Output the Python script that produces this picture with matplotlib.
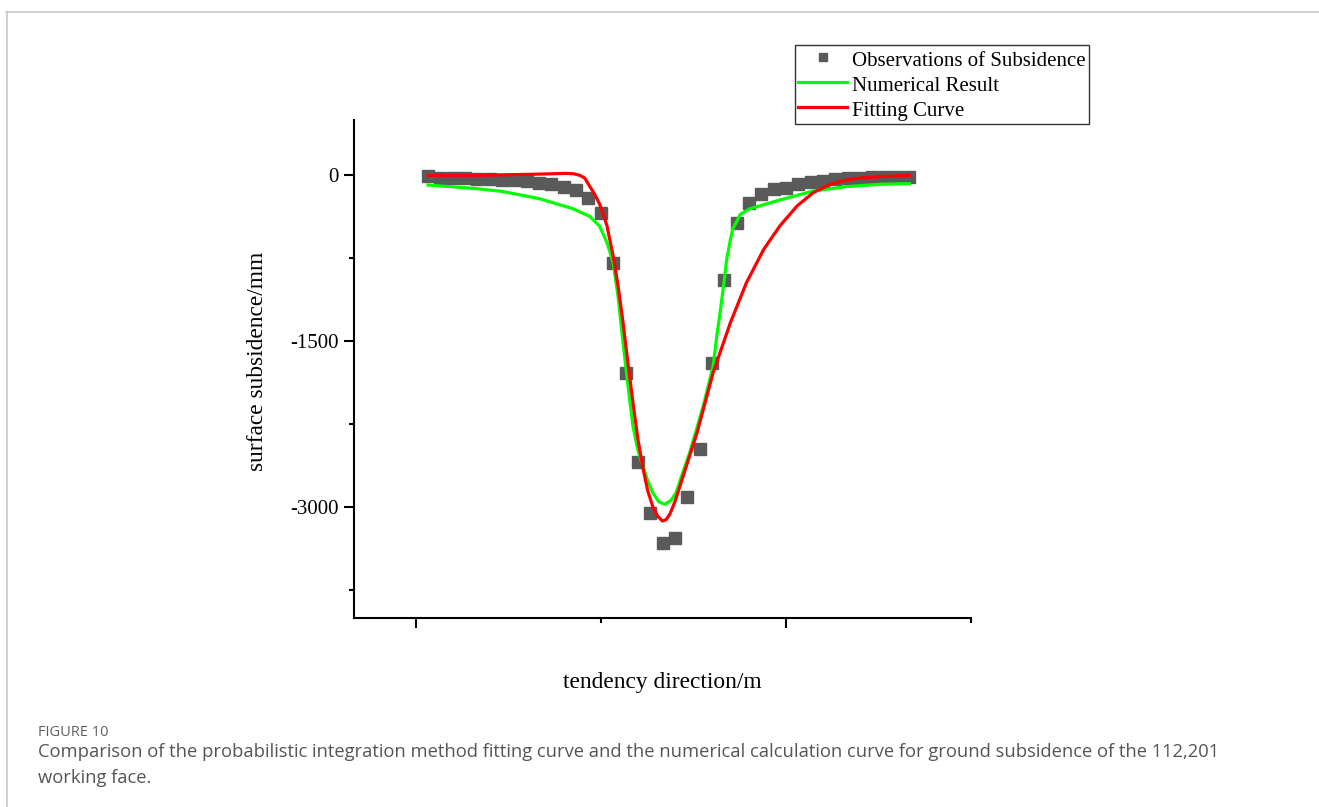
import matplotlib
matplotlib.use("Agg")
import matplotlib.pyplot as plt
from matplotlib.lines import Line2D
from matplotlib.ticker import MultipleLocator

# observed subsidence (mm) at survey points along the tendency direction (m)
OBS_X = [10, 20, 30, 40, 50, 60, 70, 80, 90, 100,
         110, 120, 130, 140, 150, 160, 170, 180, 190, 200,
         210, 220, 230, 240, 250, 260, 270, 280, 290, 300,
         310, 320, 330, 340, 350, 360, 370, 380, 390, 400]
OBS_Y = [-6, -21, -21, -27, -30, -30, -42, -45, -54, -72,
         -81, -102, -136, -205, -343, -788, -1782, -2588, -3054, -3318,
         -3273, -2905, -2476, -1692, -949, -427, -253, -172, -127, -110,
         -80, -60, -50, -36, -27, -21, -15, -12, -12, -12]

# numerical simulation result
NUM_X = [10, 47, 70, 100, 127, 141, 149, 155, 160, 164, 168, 172, 176, 180, 184,
         188, 192, 197, 202, 207, 211, 216, 222, 233, 241, 244, 247, 250, 252, 255,
         257, 260, 263, 271, 295, 322, 349, 376, 400]
NUM_Y = [-88, -118, -145, -210, -300, -370, -460, -608, -789, -1100, -1512, -1900, -2265, -2480, -2627,
         -2760, -2867, -2950, -2973, -2935, -2867, -2700, -2506, -2085, -1723, -1450, -1211, -950, -759, -580,
         -480, -420, -352, -301, -223, -142, -102, -81, -75]

# probability integration fitting curve
FIT_X = [10, 50, 92, 110, 122, 128, 133, 137, 141, 145, 149, 152, 155, 160, 164, 168, 172, 176,
         180, 184, 188, 192, 196, 200, 203, 206, 210, 215, 228, 241, 255, 268, 282, 295,
         309, 322, 336, 349, 362, 376, 400]
FIT_Y = [0, 0, 9, 14, 18, 14, 0, -25, -100, -170, -260, -350, -458, -729, -1000, -1330, -1700, -2050,
         -2380, -2640, -2850, -2990, -3080, -3124, -3110, -3060, -2950, -2777, -2325, -1783, -1331, -970, -669, -458,
         -277, -157, -81, -42, -22, -12, 0]

Y_TICKS = [0, -1500, -3000]

SERIF = ["Liberation Serif", "DejaVu Serif"]

fig = plt.figure(figsize=(13.19, 8.07), dpi=100)
ax = fig.add_axes([0.2684, 0.2342, 0.4678, 0.6171])

ax.plot(OBS_X, OBS_Y, linestyle="none", marker="s", markersize=8,
        color="#5a5a5a", label="Observations of Subsidence", zorder=2)
ax.plot(NUM_X, NUM_Y, color="#00ff00", linewidth=2.3, label="Numerical Result", zorder=3)
ax.plot(FIT_X, FIT_Y, color="#ff0000", linewidth=2.3, label="Fitting Curve", zorder=4)

ax.set_xlim(-50, 450)
ax.set_ylim(-4000, 500)
ax.xaxis.set_major_locator(MultipleLocator(300))
ax.xaxis.set_minor_locator(MultipleLocator(150))
ax.set_xticklabels([])
ax.set_yticks(Y_TICKS)
ax.set_yticklabels([str(v) for v in Y_TICKS], fontfamily=SERIF, fontsize=15)
ax.yaxis.set_minor_locator(MultipleLocator(750))

for side in ["top", "right"]:
    ax.spines[side].set_visible(False)
for side in ["left", "bottom"]:
    ax.spines[side].set_linewidth(1.5)
ax.tick_params(which="major", length=7, width=1.5, direction="out")
ax.tick_params(which="minor", length=3.5, width=1.5, direction="out")
ax.tick_params(axis="y", pad=4)

ax.set_xlabel("tendency direction/m", fontfamily=SERIF, fontsize=16.8)
ax.set_ylabel("surface subsidence/mm", fontfamily=SERIF, fontsize=16.8)
ax.xaxis.set_label_coords(0.5, -0.108)
ax.yaxis.set_label_coords(-0.139, 0.516)

leg = fig.legend(loc="upper left", bbox_to_anchor=(795 / 1319, 1 - 45 / 807),
                 prop={"family": SERIF, "size": 15}, frameon=True, fancybox=False,
                 edgecolor="black", borderpad=0.15, borderaxespad=0, handlelength=2.35,
                 handleheight=1.22, handletextpad=0.25, labelspacing=0.1, markerscale=0.75)
leg.get_frame().set_linewidth(1.0)

# page frame and caption
fig.add_artist(Line2D([6 / 1319, 1], [1 - 11.5 / 807] * 2, color="#c8c8c8", linewidth=1.2))
fig.add_artist(Line2D([6.5 / 1319] * 2, [0, 1 - 11.5 / 807], color="#c8c8c8", linewidth=1.2))

fig.text(38 / 1319, 1 - 733 / 807, "FIGURE 10", fontfamily="Open Sans", fontsize=10.5,
         color="#606060", va="center", ha="left")
fig.text(38 / 1319, 1 - 752 / 807,
         "Comparison of the probabilistic integration method fitting curve and the numerical "
         "calculation curve for ground subsidence of the 112,201",
         fontfamily="Open Sans", fontsize=13.2, color="#555555", va="center", ha="left")
fig.text(38 / 1319, 1 - 778 / 807, "working face.", fontfamily="Open Sans", fontsize=13.2,
         color="#555555", va="center", ha="left")

fig.savefig("out.png", dpi=100)
